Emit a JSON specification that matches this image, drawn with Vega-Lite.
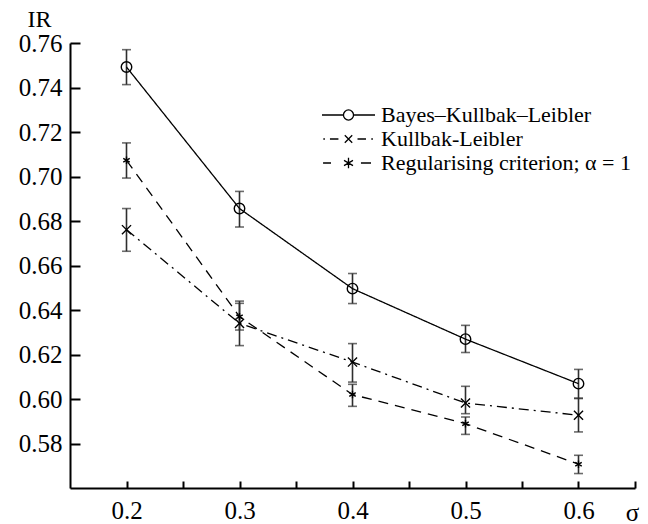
{
  "$schema": "https://vega.github.io/schema/vega-lite/v6.json",
  "autosize": {"type": "none"},
  "padding": {"left": 70, "top": 43, "right": 13, "bottom": 36},
  "width": 565,
  "height": 445,
  "background": "white",
  "config": {
    "view": {"stroke": null},
    "font": "Liberation Serif",
    "axis": {"grid": false, "domainColor": "black", "tickColor": "black", "labelColor": "black", "titleColor": "black", "labelFont": "Liberation Serif", "titleFont": "Liberation Serif", "titleFontWeight": "normal", "domainWidth": 2, "tickWidth": 2}
  },
  "data": {
    "values": [
      {"series": "Bayes–Kullbak–Leibler", "sigma": 0.2, "ir": 0.7492, "lo": 0.7413, "hi": 0.757},
      {"series": "Bayes–Kullbak–Leibler", "sigma": 0.3, "ir": 0.6856, "lo": 0.6773, "hi": 0.6933},
      {"series": "Bayes–Kullbak–Leibler", "sigma": 0.4, "ir": 0.6496, "lo": 0.6429, "hi": 0.6564},
      {"series": "Bayes–Kullbak–Leibler", "sigma": 0.5, "ir": 0.6269, "lo": 0.6209, "hi": 0.6331},
      {"series": "Bayes–Kullbak–Leibler", "sigma": 0.6, "ir": 0.6069, "lo": 0.6002, "hi": 0.6133},
      {"series": "Kullbak-Leibler", "sigma": 0.2, "ir": 0.6761, "lo": 0.6664, "hi": 0.6856},
      {"series": "Kullbak-Leibler", "sigma": 0.3, "ir": 0.634, "lo": 0.624, "hi": 0.644},
      {"series": "Kullbak-Leibler", "sigma": 0.4, "ir": 0.6166, "lo": 0.6076, "hi": 0.6249},
      {"series": "Kullbak-Leibler", "sigma": 0.5, "ir": 0.5982, "lo": 0.5934, "hi": 0.6057},
      {"series": "Kullbak-Leibler", "sigma": 0.6, "ir": 0.5927, "lo": 0.5852, "hi": 0.6004},
      {"series": "Regularising criterion; α = 1", "sigma": 0.2, "ir": 0.7073, "lo": 0.6993, "hi": 0.7151},
      {"series": "Regularising criterion; α = 1", "sigma": 0.3, "ir": 0.637, "lo": 0.631, "hi": 0.643},
      {"series": "Regularising criterion; α = 1", "sigma": 0.4, "ir": 0.602, "lo": 0.5967, "hi": 0.6066},
      {"series": "Regularising criterion; α = 1", "sigma": 0.5, "ir": 0.5889, "lo": 0.5841, "hi": 0.5919},
      {"series": "Regularising criterion; α = 1", "sigma": 0.6, "ir": 0.5707, "lo": 0.5665, "hi": 0.5747}
    ]
  },
  "encoding": {
    "x": {
      "field": "sigma", "type": "quantitative",
      "scale": {"domain": [0.15, 0.65], "nice": false, "zero": false},
      "axis": {
        "title": "σ", "titleFontSize": 25, "titleAngle": 0, "titleX": 562, "titleY": 24, "titleAlign": "center", "titleBaseline": "middle",
        "values": [0.2, 0.25, 0.3, 0.35, 0.4, 0.45, 0.5, 0.55, 0.6, 0.65],
        "labelExpr": "(round(datum.value*100) % 10 == 0) ? format(datum.value, '.1f') : ''",
        "labelFontSize": 25, "tickSize": -7, "labelPadding": 17, "labelFlush": false, "labelOverlap": false
      }
    },
    "y": {
      "field": "ir", "type": "quantitative",
      "scale": {"domain": [0.56, 0.76], "nice": false, "zero": false},
      "axis": {
        "title": "IR", "titleFontSize": 24, "titleAngle": 0, "titleX": -31, "titleY": -24, "titleAlign": "center", "titleBaseline": "middle",
        "values": [0.58, 0.6, 0.62, 0.64, 0.66, 0.68, 0.7, 0.72, 0.74, 0.76],
        "format": ".2f", "labelFontSize": 25, "tickSize": -10, "labelPadding": 18, "labelFlush": false, "labelOverlap": false
      }
    }
  },
  "layer": [
    {
      "mark": {"type": "errorbar", "ticks": {"size": 9}, "thickness": 1.6, "color": "#2e2e2e"},
      "encoding": {
        "y": {"field": "lo", "type": "quantitative"},
        "y2": {"field": "hi"},
        "detail": {"field": "series"}
      }
    },
    {
      "mark": {"type": "line", "color": "black", "strokeWidth": 1.3},
      "encoding": {
        "strokeDash": {
          "field": "series", "type": "nominal",
          "scale": {"domain": ["Bayes–Kullbak–Leibler", "Kullbak-Leibler", "Regularising criterion; α = 1"], "range": [[1, 0], [10, 5, 2, 5], [10, 7]]},
          "legend": null
        }
      }
    },
    {
      "mark": {"type": "point", "filled": false, "color": "black", "strokeWidth": 1.4, "opacity": 1},
      "encoding": {
        "shape": {
          "field": "series", "type": "nominal",
          "scale": {"domain": ["Bayes–Kullbak–Leibler", "Kullbak-Leibler", "Regularising criterion; α = 1"], "range": ["M-1,0A1,1,0,1,1,1,0A1,1,0,1,1,-1,0", "M-1,-1L1,1M-1,1L1,-1", "M0,-1V1M-0.87,-0.5L0.87,0.5M-0.87,0.5L0.87,-0.5"]},
          "legend": null
        },
        "size": {
          "field": "series", "type": "nominal",
          "scale": {"domain": ["Bayes–Kullbak–Leibler", "Kullbak-Leibler", "Regularising criterion; α = 1"], "range": [110, 56, 90]},
          "legend": null
        }
      }
    },
    {
      "mark": {"type": "point", "filled": false, "color": "black", "opacity": 0},
      "encoding": {
        "shape": {
          "field": "series", "type": "nominal",
          "scale": {"domain": ["Bayes–Kullbak–Leibler", "Kullbak-Leibler", "Regularising criterion; α = 1"], "range": [
            "M-1,0H-0.19M0.19,0H1M-0.19,0A0.19,0.19,0,1,1,0.19,0A0.19,0.19,0,1,1,-0.19,0",
            "M-0.95,0H-0.89M-0.7,0H-0.38M-0.14,-0.14L0.14,0.14M-0.14,0.14L0.14,-0.14M0.34,0H0.66M0.86,0H0.92",
            "M-0.96,0H-0.66M0,-0.2V0.2M-0.17,-0.1L0.17,0.1M-0.17,0.1L0.17,-0.1M0.47,0H0.85"
          ]},
          "legend": {
            "title": null, "orient": "none", "legendX": 251, "legendY": 61, "padding": 0,
            "symbolSize": 2809, "symbolOpacity": 1, "symbolStrokeColor": "black", "symbolFillColor": "transparent", "symbolStrokeWidth": 1.3,
            "labelFont": "Liberation Serif", "labelFontSize": 22, "labelColor": "black", "labelOffset": 5, "labelLimit": 400,
            "clipHeight": 22, "rowPadding": 2
          }
        }
      }
    }
  ],
  "resolve": {"scale": {"shape": "independent"}}
}
